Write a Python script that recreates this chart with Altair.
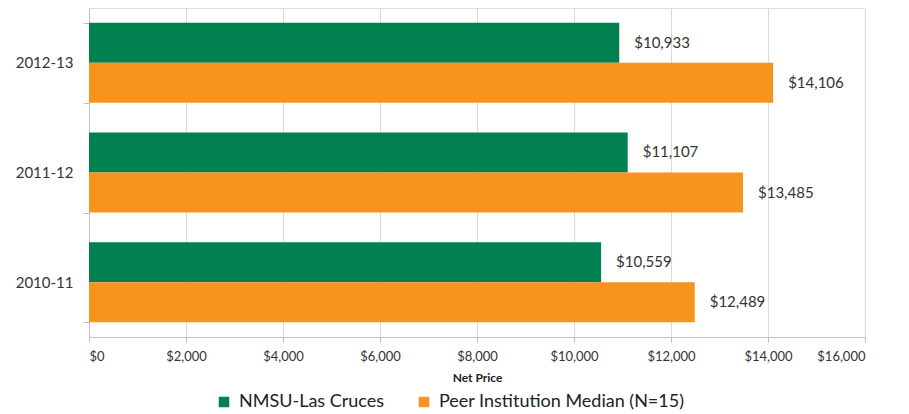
import altair as alt
import pandas as pd

years = ["2012-13", "2011-12", "2010-11"]
series = ["NMSU-Las Cruces", "Peer Institution Median (N=15)"]
nmsu = [10933, 11107, 10559]
peer = [14106, 13485, 12489]
x_ticks = [0, 2000, 4000, 6000, 8000, 10000, 12000, 14000, 16000]
colors = ["#00814F", "#F7941E"]

rows = []
for i, y in enumerate(years):
    rows.append({"year": y, "series": series[0], "value": nmsu[i]})
    rows.append({"year": y, "series": series[1], "value": peer[i]})
df = pd.DataFrame(rows)

FONT = "Lato"

y_enc = alt.Y("year:N", sort=years, title=None,
              scale=alt.Scale(paddingInner=0.27, paddingOuter=0.135),
              axis=alt.Axis(tickBand="extent", tickSize=6, labelPadding=10,
                            labelFontSize=15, labelColor="#333333", labelFont=FONT,
                            domainColor="#BFBFBF", tickColor="#BFBFBF", grid=False))
yoff = alt.YOffset("series:N", sort=series, scale=alt.Scale(paddingInner=0, paddingOuter=0))

base = alt.Chart(df)

bars = base.mark_bar(size=40).encode(
    x=alt.X("value:Q", title="Net Price",
            scale=alt.Scale(domain=[0, 16000]),
            axis=alt.Axis(values=x_ticks, format="$,.0f", tickSize=5, labelPadding=8,
                          labelFontSize=13, labelColor="#333333", labelFont=FONT,
                          titleFont=FONT, titleFontSize=12, titleFontWeight="bold",
                          titleColor="#222222", titlePadding=9,
                          gridColor="#D9D9D9", domainColor="#BFBFBF", tickColor="#BFBFBF")),
    y=y_enc,
    yOffset=yoff,
    color=alt.Color("series:N", sort=series,
                    scale=alt.Scale(domain=series, range=colors),
                    legend=alt.Legend(title=None, orient="none", direction="horizontal",
                                      legendX=126, legendY=385,
                                      symbolType="square", symbolSize=110,
                                      symbolStrokeWidth=0, labelFontSize=18,
                                      labelFont=FONT, labelColor="#222222",
                                      labelLimit=0,
                                      labelOffset=6, columnPadding=30)),
)

labels = base.mark_text(align="left", baseline="middle", dx=15, fontSize=15,
                        font=FONT, color="#333333").encode(
    x=alt.X("value:Q"),
    y=alt.Y("year:N", sort=years),
    yOffset=yoff,
    text=alt.Text("value:Q", format="$,.0f"),
)

chart = alt.layer(bars, labels).properties(
    width=776, height=329,
    autosize=alt.AutoSizeParams(type="none"),
    padding={"left": 81, "top": 0, "right": 30, "bottom": 75},
).configure_view(stroke=None).configure(background="white")

chart.save("out.html", embed_options={"renderer": "svg", "actions": False})
